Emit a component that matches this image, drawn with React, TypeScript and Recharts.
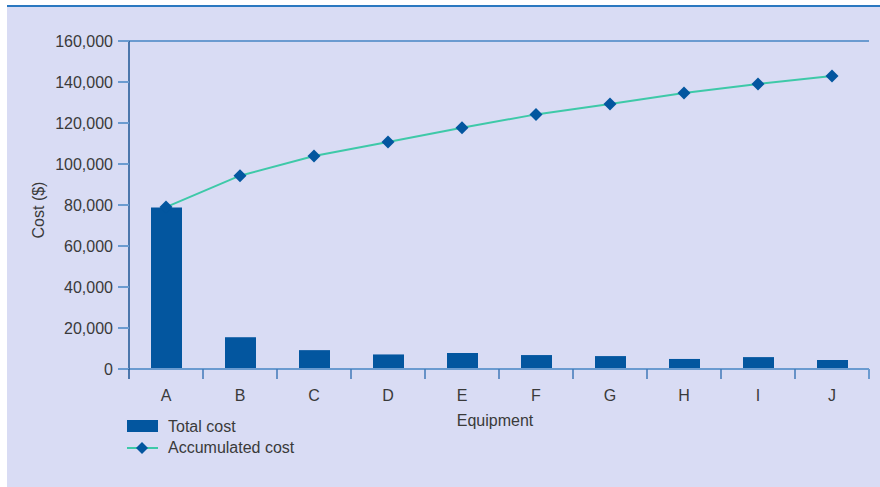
import { ComposedChart, Bar, Line, XAxis, YAxis, CartesianGrid } from 'recharts';

const equipment = ['A', 'B', 'C', 'D', 'E', 'F', 'G', 'H', 'I', 'J'];
const totalCost = [78800, 15500, 9200, 7100, 7800, 6800, 6300, 4900, 5800, 4400];
const accumulatedCost = [79000, 94300, 103900, 110700, 117700, 124200, 129300, 134600, 139000, 142900];
const yTicks = [0, 20000, 40000, 60000, 80000, 100000, 120000, 140000, 160000];

const data = equipment.map((name, i) => ({
  name,
  total: totalCost[i],
  accumulated: accumulatedCost[i],
}));

const BG = '#d9dcf4';
const BAR = '#03569f';
const LINE = '#3ec9a8';
const GRID = '#6b9bd0';
const AXIS_DARK = '#1d5695';
const TEXT = '#3a3a3a';
const FONT = '"Liberation Sans", Arial, Helvetica, sans-serif';
const FS = 16;

const PLOT_W = 740;
const band = PLOT_W / equipment.length;

const Diamond = (props: any) => {
  const { cx, cy } = props;
  if (cx == null || cy == null) return null;
  const s = 6.5;
  return (
    <polygon
      points={`${cx},${cy - s} ${cx + s},${cy} ${cx},${cy + s} ${cx - s},${cy}`}
      fill={BAR}
    />
  );
};

const XTick = (props: any) => {
  const { x, y, payload, index } = props;
  const left = x - band / 2;
  const right = x + band / 2;
  return (
    <g>
      <line x1={left} y1={y} x2={left} y2={y + 10} stroke={index === 0 ? AXIS_DARK : '#3f78b8'} strokeWidth={1.5} />
      {index === equipment.length - 1 && (
        <line x1={right} y1={y} x2={right} y2={y + 10} stroke={GRID} strokeWidth={2} />
      )}
      <text x={x} y={y + 26} textAnchor="middle" dominantBaseline="central" fill={TEXT} fontSize={FS} fontFamily={FONT}>
        {payload.value}
      </text>
    </g>
  );
};

export default function App() {
  return (
    <div
      style={{
        position: 'absolute',
        left: 7,
        top: 5,
        width: 873,
        height: 480,
        background: BG,
        borderTop: '2px solid #2b78c0',
        fontFamily: FONT,
      }}
    >
      <ComposedChart
        width={873}
        height={480}
        data={data}
        margin={{ top: 34, right: 11, bottom: 58, left: 0 }}
        barSize={31}
      >
        <CartesianGrid vertical={false} stroke={GRID} strokeWidth={2} />
        <XAxis
          dataKey="name"
          height={60}
          tickSize={0}
          tickMargin={0}
          tickLine={false}
          axisLine={{ stroke: GRID, strokeWidth: 2 }}
          tick={<XTick />}
          interval={0}
          label={({ viewBox }: any) => (
            <text
              x={viewBox.x + viewBox.width / 2 - 4}
              y={viewBox.y + 51}
              textAnchor="middle"
              dominantBaseline="central"
              fill={TEXT}
              fontSize={FS}
              fontFamily={FONT}
            >
              Equipment
            </text>
          )}
        />
        <YAxis
          yAxisId="left"
          width={122}
          domain={[0, 160000]}
          ticks={yTicks}
          interval={0}
          tickSize={11}
          tickMargin={5}
          tickLine={{ stroke: GRID, strokeWidth: 2 }}
          axisLine={{ stroke: AXIS_DARK, strokeWidth: 1.5 }}
          tick={{ fill: TEXT, fontSize: FS, fontFamily: FONT }}
          tickFormatter={(v: number) => v.toLocaleString('en-US')}
          label={({ viewBox }: any) => {
            const cy = viewBox.y + viewBox.height / 2 + 5;
            return (
              <text
                x={31}
                y={cy}
                transform={`rotate(-90, 31, ${cy})`}
                textAnchor="middle"
                dominantBaseline="central"
                fill={TEXT}
                fontSize={FS}
                fontFamily={FONT}
              >
                Cost ($)
              </text>
            );
          }}
        />
        <YAxis
          yAxisId="right"
          orientation="right"
          width={0}
          domain={[0, 160000]}
          tick={false}
          tickLine={false}
          axisLine={{ stroke: GRID, strokeWidth: 2 }}
        />
        <Bar yAxisId="left" dataKey="total" fill={BAR} isAnimationActive={false} />
        <Line
          yAxisId="left"
          type="linear"
          dataKey="accumulated"
          stroke={LINE}
          strokeWidth={2}
          dot={<Diamond />}
          activeDot={false}
          isAnimationActive={false}
        />
      </ComposedChart>
      <div style={{ position: 'absolute', left: 120, top: 409, color: TEXT, fontSize: FS, lineHeight: '21px' }}>
        <div style={{ display: 'flex', alignItems: 'center' }}>
          <svg width={31} height={21} style={{ marginRight: 10 }}>
            <rect x={0} y={4} width={31} height={12} fill={BAR} />
          </svg>
          <span>Total cost</span>
        </div>
        <div style={{ display: 'flex', alignItems: 'center' }}>
          <svg width={31} height={21} style={{ marginRight: 10 }}>
            <line x1={0} y1={11} x2={31} y2={11} stroke={LINE} strokeWidth={2} />
            <polygon points="15,5 21,11 15,17 9,11" fill={BAR} />
          </svg>
          <span>Accumulated cost</span>
        </div>
      </div>
    </div>
  );
}
